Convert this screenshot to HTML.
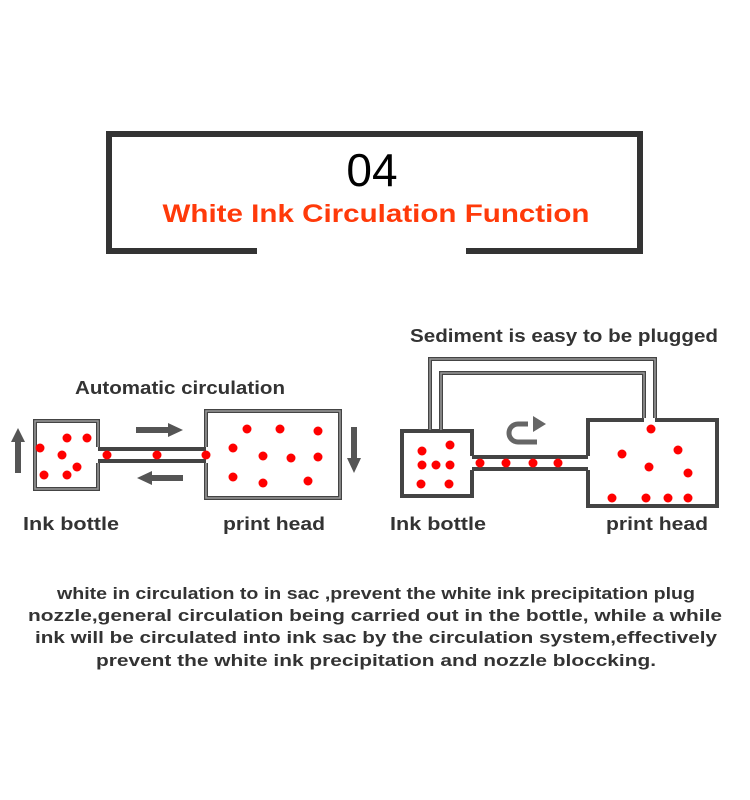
<!DOCTYPE html>
<html><head><meta charset="utf-8"><style>
html,body{margin:0;padding:0;background:#fff;}
svg{display:block;}
text{font-family:"Liberation Sans",sans-serif;}
</style></head><body>
<svg width="750" height="800" viewBox="0 0 750 800" xmlns="http://www.w3.org/2000/svg">
<g fill="#333">
<rect x="106" y="131" width="537" height="6"/>
<rect x="106" y="131" width="6" height="123"/>
<rect x="637" y="131" width="6" height="123"/>
<rect x="106" y="248" width="151" height="6"/>
<rect x="466" y="248" width="177" height="6"/>
</g>
<text x="372" y="186" font-size="46" text-anchor="middle" fill="#000">04</text>
<text x="376" y="222" font-size="25" font-weight="bold" fill="#ff3a0a" text-anchor="middle" textLength="427" lengthAdjust="spacingAndGlyphs">White Ink Circulation Function</text>

<text x="180" y="394" font-size="18" font-weight="bold" fill="#333" text-anchor="middle" textLength="210" lengthAdjust="spacingAndGlyphs">Automatic circulation</text>
<g fill="none" stroke="#444" stroke-width="4">
<path d="M98 447 V421 H35 V489 H98 V463"/>
<path d="M98 449 H206 M98 461 H206"/>
<path d="M206 447 V411 H340 V498 H206 V463"/>
</g>
<g fill="none" stroke="#999" stroke-width="1.5">
<path d="M98 447 V421 H35 V489 H98 V463"/>
<path d="M206 447 V411 H340 V498 H206 V463"/>
</g>
<g fill="#555">
<polygon points="18,428 11,442 15,442 15,473 21,473 21,442 25,442"/>
<polygon points="354,473 347,458 351,458 351,427 357,427 357,458 361,458"/>
<polygon points="183,430 168,423 168,427 136,427 136,433 168,433 168,437"/>
<polygon points="137,478 152,471 152,475 183,475 183,481 152,481 152,485"/>
</g>
<g fill="#f00">
<circle cx="40" cy="448" r="4.5"/><circle cx="67" cy="438" r="4.5"/><circle cx="87" cy="438" r="4.5"/>
<circle cx="62" cy="455" r="4.5"/><circle cx="44" cy="475" r="4.5"/><circle cx="67" cy="475" r="4.5"/><circle cx="77" cy="467" r="4.5"/>
<circle cx="107" cy="455" r="4.5"/><circle cx="157" cy="455" r="4.5"/><circle cx="206" cy="455" r="4.5"/>
<circle cx="247" cy="429" r="4.5"/><circle cx="280" cy="429" r="4.5"/><circle cx="318" cy="431" r="4.5"/>
<circle cx="233" cy="448" r="4.5"/><circle cx="263" cy="456" r="4.5"/><circle cx="291" cy="458" r="4.5"/><circle cx="318" cy="457" r="4.5"/>
<circle cx="233" cy="477" r="4.5"/><circle cx="263" cy="483" r="4.5"/><circle cx="308" cy="481" r="4.5"/>
</g>
<text x="23" y="530" font-size="18" font-weight="bold" fill="#333" textLength="96" lengthAdjust="spacingAndGlyphs">Ink bottle</text>
<text x="223" y="530" font-size="18" font-weight="bold" fill="#333" textLength="102" lengthAdjust="spacingAndGlyphs">print head</text>

<text x="564" y="342" font-size="18" font-weight="bold" fill="#333" text-anchor="middle" textLength="308" lengthAdjust="spacingAndGlyphs">Sediment is easy to be plugged</text>
<g fill="none" stroke="#444" stroke-width="4">
<path d="M430 430 V359 H655 V418"/>
<path d="M441 430 V373 H644 V418"/>
<path d="M472 456 V431 H402 V496 H472 V470"/>
<path d="M472 457 H588 M472 469 H588"/>
<path d="M588 456 V420 H644 M655 420 H717 V506 H588 V470"/>
<path d="M430 431 H441"/>
</g>
<g fill="none" stroke="#999" stroke-width="1.5">
<path d="M430 430 V359 H655 V418"/>
<path d="M441 430 V373 H644 V418"/>
</g>
<path d="M528 424 H518 A9 9 0 0 0 518 442 H537" fill="none" stroke="#666" stroke-width="5"/>
<polygon points="546,424 533,416 533,432" fill="#666"/>
<g fill="#f00">
<circle cx="422" cy="451" r="4.5"/><circle cx="450" cy="445" r="4.5"/><circle cx="422" cy="465" r="4.5"/>
<circle cx="436" cy="465" r="4.5"/><circle cx="450" cy="465" r="4.5"/><circle cx="421" cy="484" r="4.5"/><circle cx="449" cy="484" r="4.5"/>
<circle cx="480" cy="463" r="4.5"/><circle cx="506" cy="463" r="4.5"/><circle cx="533" cy="463" r="4.5"/><circle cx="558" cy="463" r="4.5"/>
<circle cx="651" cy="429" r="4.5"/><circle cx="622" cy="454" r="4.5"/><circle cx="678" cy="450" r="4.5"/>
<circle cx="649" cy="467" r="4.5"/><circle cx="688" cy="473" r="4.5"/>
<circle cx="612" cy="498" r="4.5"/><circle cx="646" cy="498" r="4.5"/><circle cx="668" cy="498" r="4.5"/><circle cx="688" cy="498" r="4.5"/>
</g>
<text x="390" y="530" font-size="18" font-weight="bold" fill="#333" textLength="96" lengthAdjust="spacingAndGlyphs">Ink bottle</text>
<text x="606" y="530" font-size="18" font-weight="bold" fill="#333" textLength="102" lengthAdjust="spacingAndGlyphs">print head</text>

<g font-size="17" font-weight="bold" fill="#333" text-anchor="middle">
<text x="376" y="599" textLength="638" lengthAdjust="spacingAndGlyphs">white in circulation to in sac ,prevent the white ink precipitation plug</text>
<text x="375" y="621" textLength="694" lengthAdjust="spacingAndGlyphs">nozzle,general circulation being carried out in the bottle, while a while</text>
<text x="376" y="643" textLength="682" lengthAdjust="spacingAndGlyphs">ink will be circulated into ink sac by the circulation system,effectively</text>
<text x="376" y="666" textLength="560" lengthAdjust="spacingAndGlyphs">prevent the white ink precipitation and nozzle bloccking.</text>
</g>
</svg>
</body></html>
